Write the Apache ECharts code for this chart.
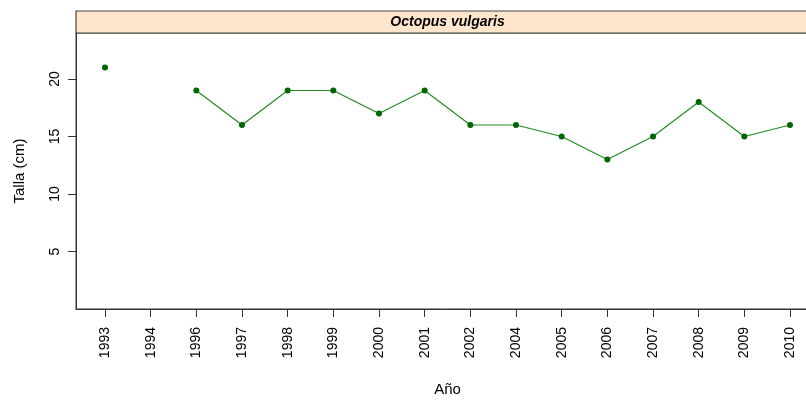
<!DOCTYPE html>
<html>
<head>
<meta charset="utf-8">
<script src="https://cdn.jsdelivr.net/npm/echarts@6/dist/echarts.min.js"></script>
<style>
  html, body { margin: 0; padding: 0; background: #fff; }
  #main-chart { width: 806px; height: 401px; }
</style>
</head>
<body>
<div id="main-chart"></div>
<script>
// Datos: talla media por año
const years = ['1993', '1994', '1996', '1997', '1998', '1999', '2000', '2001',
               '2002', '2004', '2005', '2006', '2007', '2008', '2009', '2010'];
const talla = [21, null, 19, 16, 19, 19, 17, 19, 16, 16, 15, 13, 15, 18, 15, 16];
const yTicks = [5, 10, 15, 20];
const speciesName = 'Octopus vulgaris';

const chartDom = document.getElementById('main-chart');
const myChart = echarts.init(chartDom);

const font = 'Liberation Sans, Arial, sans-serif';
const idx = years.map((y, i) => i);

const option = {
    animation: false,
    grid: {
        left: 76, top: 33, width: 743, height: 276,
        outerBoundsMode: 'none', containLabel: false,
        show: true, borderColor: '#333', borderWidth: 1
    },
    graphic: [
        {
            type: 'rect',
            shape: { x: 76, y: 11, width: 743, height: 22 },
            style: { fill: '#FFE5CC', stroke: '#444', lineWidth: 1.2 }
        },
        {
            type: 'text',
            x: 447.5, y: 22,
            style: {
                text: speciesName, align: 'center', verticalAlign: 'middle',
                font: 'italic bold 14px ' + font, fill: '#000'
            }
        }
    ],
    xAxis: {
        type: 'value',
        min: -0.635, max: 15.635,
        name: 'Año', nameLocation: 'middle', nameGap: 73,
        nameTextStyle: { fontFamily: font, fontSize: 15, color: '#000' },
        axisLine: { show: true, onZero: false, lineStyle: { color: '#333' } },
        splitLine: { show: false },
        axisTick: { show: true, length: 8, customValues: idx, lineStyle: { color: '#333' } },
        axisLabel: {
            customValues: idx, rotate: 90, margin: 18,
            fontFamily: font, fontSize: 14, color: '#000',
            formatter: v => years[Math.round(v)]
        }
    },
    yAxis: {
        type: 'value',
        min: 0, max: 24,
        name: 'Talla (cm)', nameLocation: 'middle', nameGap: 49,
        nameTextStyle: { fontFamily: font, fontSize: 15, color: '#000' },
        axisLine: { show: true, onZero: false, lineStyle: { color: '#333' } },
        splitLine: { show: false },
        axisTick: { show: true, length: 8, customValues: yTicks, lineStyle: { color: '#333' } },
        axisLabel: {
            customValues: yTicks, rotate: 90, margin: 14,
            fontFamily: font, fontSize: 14, color: '#000'
        }
    },
    series: [
        {
            type: 'line',
            data: idx.map(i => [i, talla[i]]),
            connectNulls: false,
            symbol: 'circle', symbolSize: 6,
            itemStyle: { color: '#006400' },
            lineStyle: { color: '#228B22', width: 1.2 }
        }
    ]
};

myChart.setOption(option);
</script>
</body>
</html>
